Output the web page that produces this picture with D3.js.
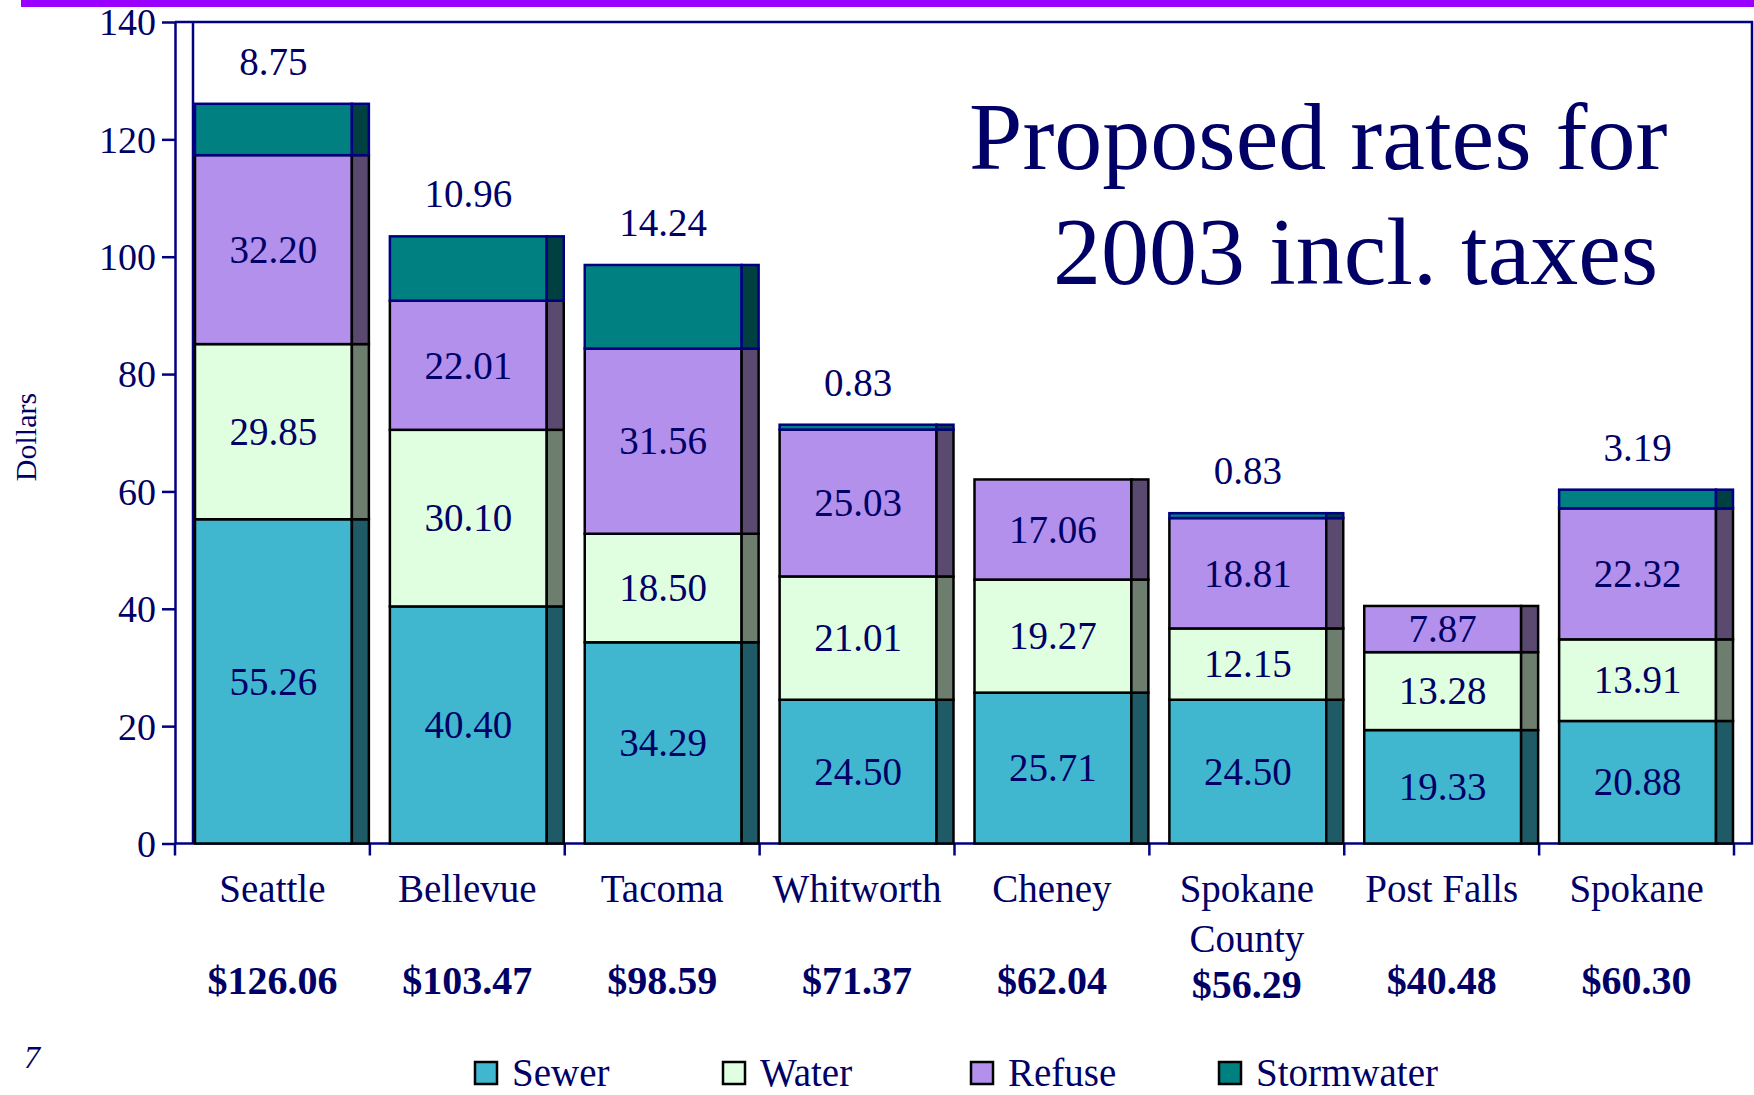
<!DOCTYPE html>
<html lang="en">
<head>
<meta charset="UTF-8">
<title>Proposed rates for 2003</title>
<style>
    body { margin: 0; background: #fff; }
    svg { display: block; font-family: "Liberation Serif", "Times New Roman", serif; }
    .axis path, .axis line { stroke: #000080; stroke-width: 2.5px; }
    .axis text { fill: #000066; font-size: 38px; font-family: "Liberation Serif", "Times New Roman", serif; }
</style>
</head>
<body>
<svg id="main" width="1754" height="1095"></svg>
<script src="https://cdn.jsdelivr.net/npm/d3@7/dist/d3.min.js"></script>
<script>
var cities = ["Seattle", "Bellevue", "Tacoma", "Whitworth", "Cheney", "Spokane County", "Post Falls", "Spokane"];
var cityLines = [["Seattle"], ["Bellevue"], ["Tacoma"], ["Whitworth"], ["Cheney"], ["Spokane", "County"], ["Post Falls"], ["Spokane"]];
var sewer = [55.26, 40.40, 34.29, 24.50, 25.71, 24.50, 19.33, 20.88];
var water = [29.85, 30.10, 18.50, 21.01, 19.27, 12.15, 13.28, 13.91];
var refuse = [32.20, 22.01, 31.56, 25.03, 17.06, 18.81, 7.87, 22.32];
var stormwater = [8.75, 10.96, 14.24, 0.83, 0, 0.83, 0, 3.19];
var totals = ["$126.06", "$103.47", "$98.59", "$71.37", "$62.04", "$56.29", "$40.48", "$60.30"];
var yTicks = [0, 20, 40, 60, 80, 100, 120, 140];
var seriesNames = ["Sewer", "Water", "Refuse", "Stormwater"];

var front = {Sewer: "#40b7ce", Water: "#e0ffe0", Refuse: "#b290ec", Stormwater: "#008080"};
var side = {Sewer: "#1f5b66", Water: "#6e7e6e", Refuse: "#5a4a70", Stormwater: "#004040"};
var navy = "#000066";

var svg = d3.select("#main");

var rows = cities.map(function(c, i) {
    return {city: c, Sewer: sewer[i], Water: water[i], Refuse: refuse[i], Stormwater: stormwater[i]};
});
var stacked = d3.stack().keys(seriesNames)(rows);

var x = d3.scaleBand().domain(cities).range([175, 1734]).padding(0);
var y = d3.scaleLinear().domain([0, 140]).range([843.5, 22]);

var bw = x.bandwidth();
var frontOff = 20, frontW = bw * 0.805, sideW = 17;

// top banner
svg.append("rect").attr("x", 21).attr("y", 0).attr("width", 1733).attr("height", 7).attr("fill", "#9900ff");

// frame
svg.append("path")
    .attr("d", "M175," + y(140) + "H1752V" + y(0) + "H175")
    .attr("fill", "none").attr("stroke", "#000080").attr("stroke-width", 2.5);
svg.append("line")
    .attr("x1", 193).attr("x2", 193).attr("y1", y(140)).attr("y2", y(0))
    .attr("stroke", "#000080").attr("stroke-width", 2.5);

// y axis
svg.append("g").attr("class", "axis")
    .attr("transform", "translate(175,0)")
    .call(d3.axisLeft(y).tickValues(yTicks).tickSize(13).tickSizeOuter(0).tickPadding(6))
    .selectAll("text").attr("dy", "0.34em");

// x ticks at band boundaries
var bounds = cities.map(function(c) { return x(c); }).concat([x.range()[1]]);
svg.append("g").selectAll("line").data(bounds).join("line")
    .attr("x1", function(d) { return d; }).attr("x2", function(d) { return d; })
    .attr("y1", y(0)).attr("y2", y(0) + 12)
    .attr("stroke", "#000080").attr("stroke-width", 2.5);

// bars
var layers = svg.append("g").selectAll("g").data(stacked).join("g");
layers.each(function(layer) {
    var g = d3.select(this);
    var key = layer.key;
    var stroke = key === "Stormwater" ? "#000080" : "#000";
    var segs = layer.filter(function(d) { return d[1] - d[0] > 0; });
    g.selectAll("rect.front").data(segs).join("rect")
        .attr("class", "front")
        .attr("x", function(d) { return x(d.data.city) + frontOff; })
        .attr("y", function(d) { return y(d[1]); })
        .attr("width", frontW)
        .attr("height", function(d) { return y(d[0]) - y(d[1]); })
        .attr("fill", front[key]).attr("stroke", stroke).attr("stroke-width", 2.5);
    g.selectAll("rect.side").data(segs).join("rect")
        .attr("class", "side")
        .attr("x", function(d) { return x(d.data.city) + frontOff + frontW; })
        .attr("y", function(d) { return y(d[1]); })
        .attr("width", sideW)
        .attr("height", function(d) { return y(d[0]) - y(d[1]); })
        .attr("fill", side[key]).attr("stroke", stroke).attr("stroke-width", 2.5);
});

// value labels
layers.each(function(layer) {
    var key = layer.key;
    var segs = layer.filter(function(d) { return d[1] - d[0] > 0; });
    d3.select(this).selectAll("text").data(segs).join("text")
        .attr("x", function(d) { return x(d.data.city) + frontOff + frontW / 2; })
        .attr("y", function(d) {
            return key === "Stormwater" ? y(d[1]) - 29 : (y(d[0]) + y(d[1])) / 2;
        })
        .attr("dy", key === "Stormwater" ? 0 : "0.34em")
        .attr("text-anchor", "middle")
        .attr("font-size", 39).attr("fill", navy)
        .text(function(d) { return (d[1] - d[0]).toFixed(2); });
});

// category labels
var cat = svg.append("g").selectAll("text").data(cities).join("text")
    .attr("x", function(d) { return x(d) + bw / 2; })
    .attr("y", 902)
    .attr("text-anchor", "middle")
    .attr("font-size", 39).attr("fill", navy);
cat.selectAll("tspan").data(function(d, i) { return cityLines[i]; }).join("tspan")
    .attr("x", function() { return x(d3.select(this.parentNode).datum()) + bw / 2; })
    .attr("dy", function(d, i) { return i === 0 ? 0 : 50; })
    .text(function(d) { return d; });

// totals
svg.append("g").selectAll("text").data(totals).join("text")
    .attr("x", function(d, i) { return x(cities[i]) + bw / 2; })
    .attr("y", function(d, i) { return cities[i] === "Spokane County" ? 998 : 994; })
    .attr("text-anchor", "middle")
    .attr("font-size", 40).attr("font-weight", "bold").attr("fill", navy)
    .text(function(d) { return d; });

// title
svg.append("text").attr("x", 969).attr("y", 169)
    .attr("font-size", 96).attr("fill", navy).text("Proposed rates for");
svg.append("text").attr("x", 1053).attr("y", 284)
    .attr("font-size", 96).attr("fill", navy).text("2003 incl. taxes");

// y axis title
svg.append("text")
    .attr("transform", "translate(36,437) rotate(-90)")
    .attr("text-anchor", "middle")
    .attr("font-size", 30).attr("fill", navy).text("Dollars");

// slide number
svg.append("text").attr("x", 24).attr("y", 1068)
    .attr("font-size", 32).attr("font-style", "italic").attr("fill", navy).text("7");

// legend
var legend = svg.append("g").selectAll("g").data(seriesNames).join("g")
    .attr("transform", function(d, i) { return "translate(" + (475 + i * 248) + ",1062)"; });
legend.append("rect")
    .attr("width", 22).attr("height", 22)
    .attr("fill", function(d) { return front[d]; })
    .attr("stroke", "#000").attr("stroke-width", 2.5);
legend.append("text")
    .attr("x", 37).attr("y", 24)
    .attr("font-size", 39).attr("fill", navy)
    .text(function(d) { return d; });
</script>
</body>
</html>
